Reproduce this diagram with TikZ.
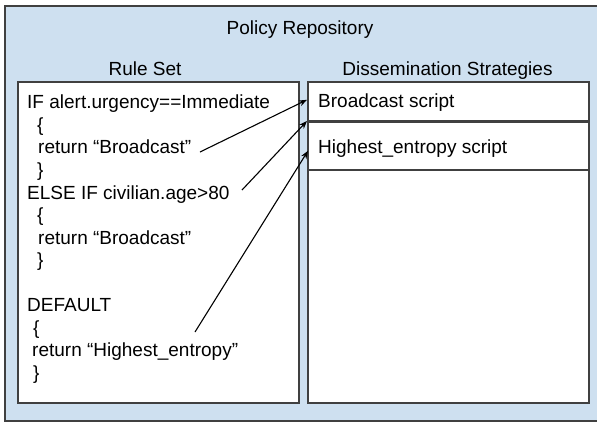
\documentclass[tikz,border=0pt]{standalone}
\usepackage{fontspec}
\setmainfont{Liberation Sans}
\usetikzlibrary{arrows.meta,calc}
\definecolor{repofill}{RGB}{206,224,240}
\definecolor{edgegray}{RGB}{64,64,64}
\tikzset{
  panel/.style={draw=edgegray,line width=1.6pt,fill=white,inner sep=0pt,anchor=north west},
  codeline/.style={anchor=base west,inner sep=0pt,font=\fontsize{19}{22}\selectfont},
  title/.style={anchor=base,inner sep=0pt,font=\fontsize{19}{22}\selectfont},
  link/.style={black,line width=1.1pt,-{Stealth[length=8pt,width=6pt]}}
}
\begin{document}
\begin{tikzpicture}[x=1pt,y=-1pt]
\clip (0,0) rectangle (597,424);
\fill[white] (0,0) rectangle (597,424);
% outer repository
\draw[draw=edgegray,line width=1.6pt,fill=repofill] (5,6) rectangle (605,421);
\node[title] (repo) at (300,34) {Policy Repository};
\node[title] (rstitle) at (145,75) {Rule Set};
\node[title] (dstitle) at (447.5,75) {Dissemination Strategies};
% rule set box
\node[panel,minimum width=281pt,minimum height=321pt] (rules) at (17,81) {};
% strategies boxes
\node[panel,minimum width=281pt,minimum height=39pt] (bc) at (307,81) {};
\node[panel,minimum width=281pt,minimum height=48pt] (he) at (307,121) {};
\node[panel,minimum width=281pt,minimum height=233pt] (rest) at (307,169) {};
\node[codeline] (bctext) at (318,107.5) {Broadcast script};
\node[codeline] (hetext) at (318,153) {Highest\_entropy script};
% code
\node[codeline] (l1) at (27,108.5) {IF alert.urgency==Immediate};
\node[codeline] (l2) at (37,131) {\{};
\node[codeline] (l3) at (38,153.5) {return “Broadcast"};
\node[codeline] (l4) at (37,176) {\}};
\node[codeline] (l5) at (27,199) {ELSE IF civilian.age>80};
\node[codeline] (l6) at (37,221.5) {\{};
\node[codeline] (l7) at (38,244) {return “Broadcast"};
\node[codeline] (l8) at (37,266.5) {\}};
\node[codeline] (l9) at (27,311.5) {DEFAULT};
\node[codeline] (l10) at (33,334) {\{};
\node[codeline] (l11) at (32,356.5) {return “Highest\_entropy"};
\node[codeline] (l12) at (33,379) {\}};
% connectors
\coordinate (s1) at (200,152);
\coordinate (s2) at (242,190);
\coordinate (s3) at (195,332);
\draw[link] (s1) -- ($(bc.west)+(0,-1.5)$);
\draw[link] (s2) -- (he.north west);
\draw[link] (s3) -- ($(he.west)+(1,5)$);
\end{tikzpicture}
\end{document}
